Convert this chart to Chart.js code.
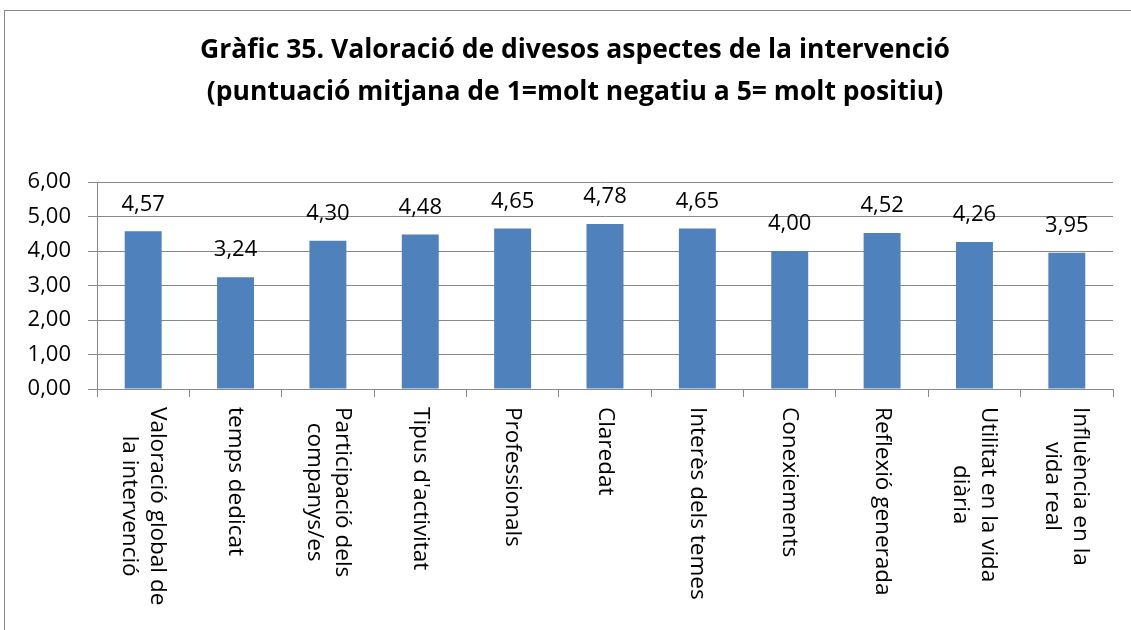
<!DOCTYPE html>
<html>
<head>
<meta charset="utf-8">
<script src="https://cdn.jsdelivr.net/npm/chart.js@4.4.1/dist/chart.umd.min.js"></script>
<style>
  html, body { margin: 0; padding: 0; background: #fff; }
  #wrap { width: 1131px; height: 630px; }
</style>
</head>
<body>
<div id="wrap"><canvas id="chart"></canvas></div>
<script>
// dades del gràfic
const categories = [
  ["Valoració global de", "la intervenció"],
  ["temps dedicat"],
  ["Participació dels", "companys/es"],
  ["Tipus d'activitat"],
  ["Professionals"],
  ["Claredat"],
  ["Interès dels temes"],
  ["Conexiements"],
  ["Reflexió generada"],
  ["Utilitat en la vida", "diària"],
  ["Influència en la", "vida real"]
];
const values = [4.57, 3.24, 4.30, 4.48, 4.65, 4.78, 4.65, 4.00, 4.52, 4.26, 3.95];
const yTicks = [0, 1, 2, 3, 4, 5, 6];
const titleLines = [
  "Gràfic 35. Valoració de divesos aspectes de la intervenció",
  "(puntuació mitjana de 1=molt negatiu a 5= molt positiu)"
];

const FONT = "'Open Sans', 'Noto Sans', sans-serif";
const fmt = v => v.toFixed(2).replace(".", ",");

// fons blanc, marc i títol
const framePlugin = {
  id: "frame",
  beforeDraw(chart) {
    const ctx = chart.ctx;
    ctx.save();
    ctx.fillStyle = "#fff";
    ctx.fillRect(0, 0, chart.width, chart.height);
    ctx.strokeStyle = "#888";
    ctx.lineWidth = 1;
    ctx.strokeRect(4.5, 10.5, chart.width + 20, chart.height + 20);
    ctx.font = "bold 26.5px " + FONT;
    ctx.fillStyle = "#000";
    ctx.textAlign = "center";
    ctx.textBaseline = "middle";
    titleLines.forEach((t, i) => ctx.fillText(t, 575, 50 + i * 42));
    ctx.restore();
  }
};

// etiquetes de valor sobre les barres
const valueLabels = {
  id: "valueLabels",
  afterDatasetsDraw(chart) {
    const ctx = chart.ctx;
    const meta = chart.getDatasetMeta(0);
    ctx.save();
    ctx.font = "22px " + FONT;
    ctx.fillStyle = "#000";
    ctx.textAlign = "center";
    ctx.textBaseline = "middle";
    meta.data.forEach((bar, i) => {
      ctx.fillText(fmt(values[i]), bar.x, bar.y - 27);
    });
    ctx.restore();
  }
};

// etiquetes de categoria girades 90° (de dalt a baix)
const rotatedLabels = {
  id: "rotatedLabels",
  afterDraw(chart) {
    const ctx = chart.ctx;
    const xs = chart.scales.x;
    const top = chart.chartArea.bottom + 18;
    const lh = 28;
    ctx.save();
    ctx.font = "22.5px " + FONT;
    ctx.fillStyle = "#000";
    ctx.textAlign = "center";
    ctx.textBaseline = "middle";
    categories.forEach((lines, i) => {
      const cx = xs.getPixelForValue(i);
      const W = Math.max(...lines.map(l => ctx.measureText(l).width));
      const n = lines.length;
      lines.forEach((line, j) => {
        const lx = cx + (n - 1) / 2 * lh - j * lh;
        ctx.save();
        ctx.translate(lx, top);
        ctx.rotate(Math.PI / 2);
        ctx.fillText(line, W / 2, 0);
        ctx.restore();
      });
    });
    ctx.restore();
  }
};

new Chart(document.getElementById("chart"), {
  type: "bar",
  data: {
    labels: categories,
    datasets: [{
      data: values,
      backgroundColor: "#4F81BD",
      categoryPercentage: 1,
      barPercentage: 0.4
    }]
  },
  options: {
    responsive: true,
    maintainAspectRatio: false,
    animation: false,
    layout: { padding: { top: 182, right: 18, bottom: 0, left: 0 } },
    plugins: {
      legend: { display: false },
      tooltip: { enabled: false },
      title: { display: false }
    },
    scales: {
      x: {
        offset: true,
        grid: { display: true, drawOnChartArea: false, drawTicks: true, tickLength: 8, color: "#888" },
        border: { color: "#888" },
        ticks: { display: false },
        afterFit: s => { s.height = 241; }
      },
      y: {
        min: 0,
        max: 6,
        afterBuildTicks: s => { s.ticks = yTicks.map(v => ({ value: v })); },
        ticks: {
          callback: v => fmt(v),
          color: "#000",
          font: { family: FONT, size: 22 },
          padding: 17
        },
        grid: { color: "#888", tickLength: 9 },
        border: { color: "#888" },
        afterFit: s => { s.width = 97; }
      }
    }
  },
  plugins: [framePlugin, valueLabels, rotatedLabels]
});
</script>
</body>
</html>
